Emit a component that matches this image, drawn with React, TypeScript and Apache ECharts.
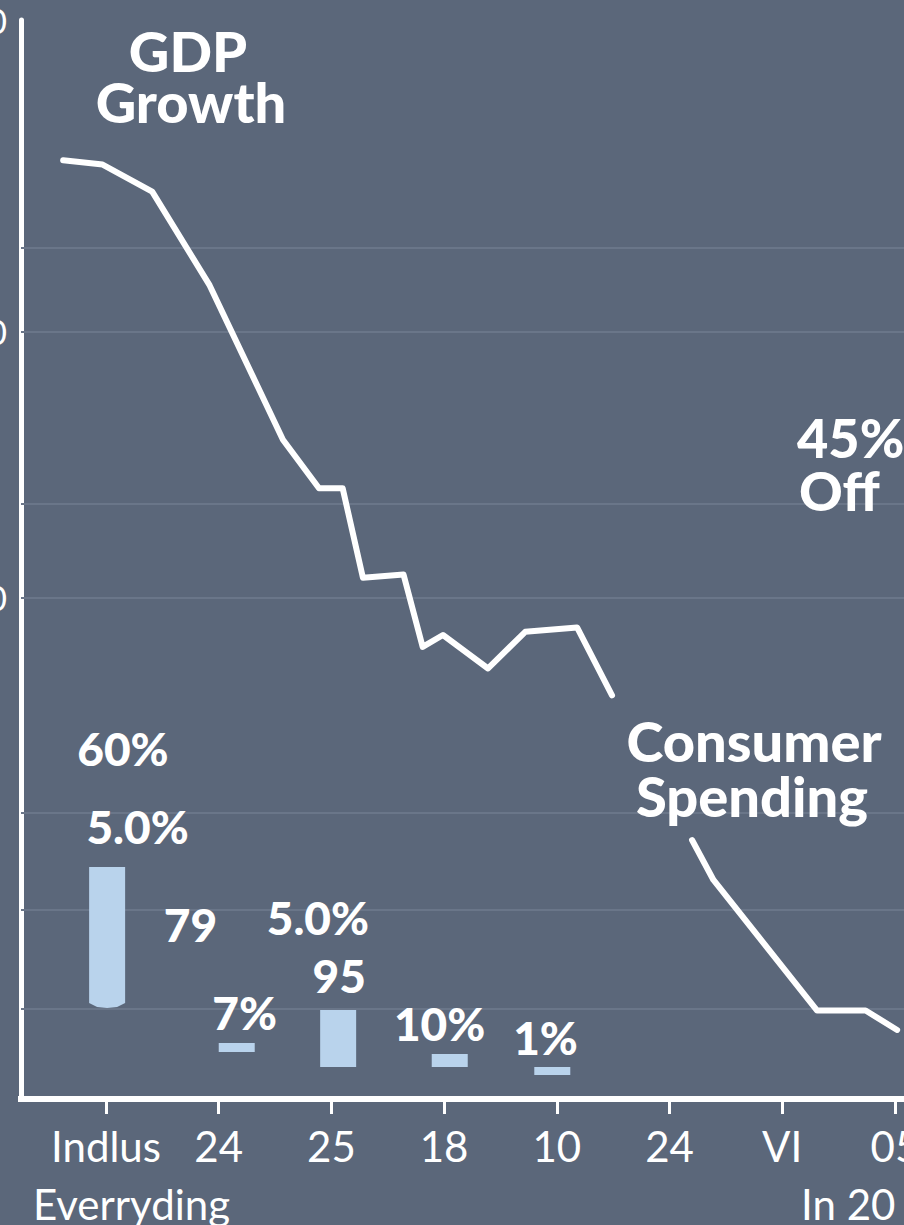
import React, { useEffect, useRef } from "react";
import * as echarts from "echarts";

// ---- data ----
const xCategories = ["Indlus", "24", "25", "18", "10", "24", "VI", "05"];
const xTickValues = [0, 1, 2, 3, 4, 5, 6, 7];
const yTickValues = [46.5, 71.1, 100];
const yTickLabels = ["40", "70", "100"];
const gridLineValues = [8.4, 17.5, 26.5, 46.5, 55.2, 71.1, 78.9];

// GDP growth line (null = gap behind the "Consumer Spending" note)
const gdpX = [-0.38, -0.03, 0.41, 0.92, 1.57, 1.89, 2.1, 2.28, 2.64, 2.81, 2.99, 3.39, 3.72, 4.18, 4.49, 4.85, 5.2, 5.39, 6.31, 6.74, 7.02];
const gdpY = [87.0, 86.6, 84.1, 75.4, 61.1, 56.6, 56.6, 48.3, 48.6, 41.9, 43.0, 39.9, 43.3, 43.7, 37.4, null, 24.0, 20.3, 8.2, 8.2, 6.4];

// floating bars
const barX = [0.01, 1.16, 2.06, 3.05, 3.96];
const barLow = [8.9, 4.36, 2.97, 2.97, 2.22];
const barHigh = [21.5, 5.19, 8.25, 4.17, 2.97];

// value notes
const noteTexts = ["60%", "5.0%", "79", "5.0%", "95", "7%", "10%", "1%"];
const noteX = [0.15, 0.28, 0.75, 1.88, 2.07, 1.23, 2.96, 3.9];
const noteY = [32.5, 25.3, 16.2, 16.8, 11.4, 8.0, 7.0, 5.7];

const BG = "#5b677a";
const BAR = "#b9d3ec";
const GRIDC = "#6a7689";
const FONT = "Lato, 'Open Sans', sans-serif";

export default function App() {
  const ref = useRef<HTMLDivElement>(null);
  useEffect(() => {
    if (!ref.current) return;
    const chart = echarts.init(ref.current, undefined, { renderer: "svg" });
    const nearest = (arr: number[], v: number) => {
      let bi = 0;
      arr.forEach((a, i) => {
        if (Math.abs(a - v) < Math.abs(arr[bi] - v)) bi = i;
      });
      return bi;
    };
    const boldText = (text: string, x: number, y: number, size: number, align: string) => ({
      type: "text",
      x,
      y,
      z: 10,
      style: {
        text,
        fill: "#ffffff",
        font: `900 ${size}px ${FONT}`,
        align,
        verticalAlign: "middle",
      },
    });
    const plainText = (text: string, x: number, y: number) => ({
      type: "text",
      x,
      y,
      z: 10,
      style: {
        text,
        fill: "#ffffff",
        font: `42px ${FONT}`,
        align: "left",
        verticalAlign: "middle",
      },
    });
    const option: any = {
      animation: false,
      backgroundColor: BG,
      grid: { left: 21, right: 0, top: 20, bottom: 126, containLabel: false, outerBoundsMode: "none" },
      xAxis: {
        type: "value",
        min: -0.7542,
        max: 7.0808,
        splitLine: { show: false },
        axisLine: { show: true, onZero: false, lineStyle: { color: "#ffffff", width: 6, cap: "square" } },
        axisTick: { show: true, customValues: xTickValues, length: 15, lineStyle: { color: "#ffffff", width: 3 } },
        axisLabel: {
          show: true,
          customValues: xTickValues,
          margin: 26,
          color: "#ffffff",
          fontFamily: FONT,
          fontSize: 42,
          hideOverlap: false,
          formatter: (v: number) => xCategories[Math.round(v)] ?? "",
        },
      },
      yAxis: {
        type: "value",
        min: 0,
        max: 100,
        splitLine: { show: false },
        axisLine: { show: true, onZero: false, lineStyle: { color: "#ffffff", width: 5 } },
        axisTick: { show: false },
        axisLabel: {
          show: true,
          customValues: yTickValues,
          margin: 14,
          color: "#ffffff",
          fontFamily: FONT,
          fontSize: 34,
          formatter: (v: number) => yTickLabels[nearest(yTickValues, v)],
        },
      },
      series: [
        {
          type: "line",
          z: 1,
          data: [[-0.7, 0]],
          showSymbol: false,
          lineStyle: { opacity: 0 },
          silent: true,
          markLine: {
            z: 1,
            silent: true,
            symbol: ["none", "none"],
            label: { show: false },
            lineStyle: { color: GRIDC, width: 2, type: "solid" },
            data: gridLineValues.map((v) => ({ yAxis: v })),
          },
        },
        {
          type: "custom",
          z: 3,
          data: barX.map((x, i) => [x, barLow[i], barHigh[i]]),
          encode: { x: 0, y: [1, 2] },
          renderItem: (params: any, api: any) => {
            const x = api.value(0);
            const top = api.coord([x, api.value(2)]);
            const bot = api.coord([x, api.value(1)]);
            const w = 36;
            const l = top[0] - w / 2;
            const r = top[0] + w / 2;
            if (params.dataIndex === 0) {
              return {
                type: "polygon",
                shape: {
                  points: [
                    [l, top[1]],
                    [r, top[1]],
                    [r, bot[1]],
                    [r - 8, bot[1] + 4],
                    [top[0], bot[1] + 5],
                    [l + 8, bot[1] + 4],
                    [l, bot[1]],
                  ],
                },
                style: { fill: BAR },
              };
            }
            return {
              type: "rect",
              shape: { x: l, y: top[1], width: w, height: bot[1] - top[1] },
              style: { fill: BAR },
            };
          },
        },
        {
          type: "line",
          z: 4,
          data: gdpX.map((x, i) => [x, gdpY[i] === null ? "-" : gdpY[i]]),
          connectNulls: false,
          showSymbol: false,
          symbol: "none",
          lineStyle: { color: "#ffffff", width: 6, cap: "round", join: "round" },
        },
        {
          type: "scatter",
          z: 5,
          symbolSize: 0,
          itemStyle: { opacity: 1 },
          data: noteX.map((x, i) => [x, noteY[i], noteTexts[i]]),
          label: {
            show: true,
            position: "inside",
            color: "#ffffff",
            fontFamily: FONT,
            fontWeight: 900,
            fontSize: 46,
            formatter: (p: any) => p.data[2],
          },
        },
      ],
      graphic: [
        boldText("GDP", 188, 50, 56, "center"),
        boldText("Growth", 191, 101, 56, "center"),
        boldText("45%", 797, 437, 54, "left"),
        boldText("Off", 799, 490, 54, "left"),
        boldText("Consumer", 754, 740, 56, "center"),
        boldText("Spending", 752, 795, 56, "center"),
        plainText("Everryding", 33, 1204),
        plainText("In 20", 801, 1204),
      ],
    };
    chart.setOption(option);
    return () => chart.dispose();
  }, []);
  return (
    <div
      ref={ref}
      style={{ position: "absolute", left: 0, top: 0, width: 904, height: 1225, background: BG }}
    />
  );
}
